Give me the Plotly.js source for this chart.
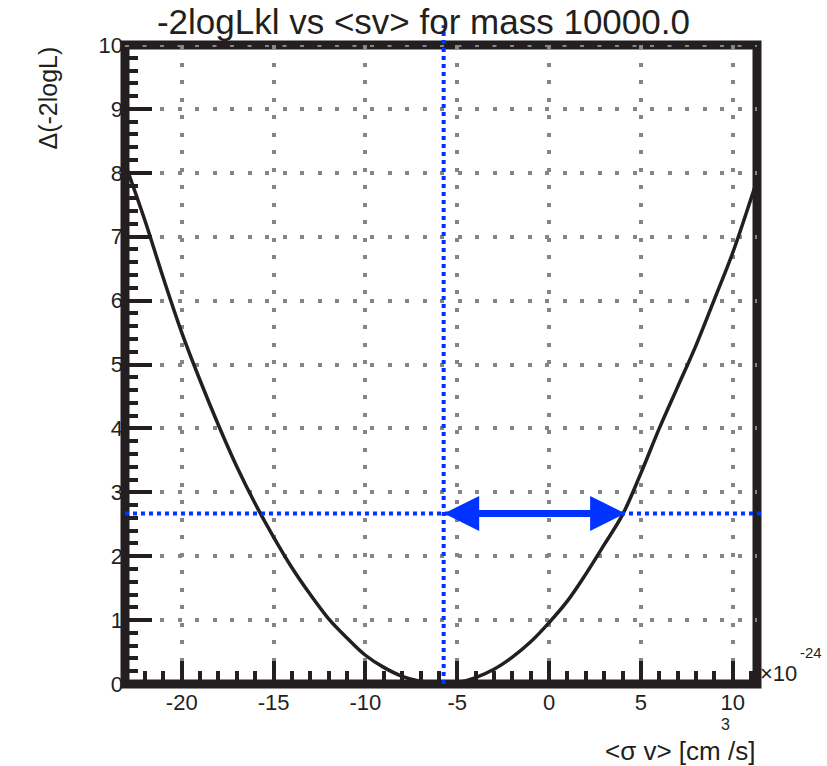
<!DOCTYPE html>
<html>
<head>
<meta charset="utf-8">
<script src="https://cdn.plot.ly/plotly-3.0.1.min.js"></script>
<style>html,body{margin:0;padding:0;background:#fff;}#chart{width:827px;height:766px;}</style>
</head>
<body>
<div id="chart"></div>
<script>
// Scan values: <sigma v> in units of 1e-24 cm^3/s
const sigmaV = [-23.09, -22, -21, -20, -19, -18, -17, -16, -15, -14, -13, -12, -11, -10, -9, -8, -7, -6, -5, -4, -3, -2, -1, 0, 1, 2, 3, 4, 5, 6, 7, 8, 9, 10, 11, 11.32];
const deltaLogL = [8.15, 7.25, 6.35, 5.5, 4.75, 4.05, 3.4, 2.82, 2.3, 1.82, 1.4, 1.02, 0.72, 0.45, 0.26, 0.12, 0.04, 0.0, 0.02, 0.1, 0.23, 0.42, 0.66, 0.96, 1.3, 1.72, 2.18, 2.65, 3.3, 4.0, 4.65, 5.3, 6.02, 6.75, 7.6, 7.88];
const bestFit = -5.74;     // vertical blue line
const upperLimit = 4.14;   // arrow right end
const limitLevel = 2.67;   // horizontal blue line
const xRange = [-23.09, 11.32];
const yRange = [0, 10];
const xTickVals = [-20, -15, -10, -5, 0, 5, 10];
const xTickText = ['-20', '-15', '-10', '-5', '0', '5', '10'];
const yTickVals = [0, 1, 2, 3, 4, 5, 6, 7, 8, 9, 10];
const yTickText = ['0', '1', '2', '3', '4', '5', '6', '7', '8', '9', '10'];

const FONT = 'Liberation Sans, Arial, Helvetica, sans-serif';
const INK = '#231f20';
const BLUE = '#0033ff';
const GRID = '#858585';

const traces = [{
  x: sigmaV, y: deltaLogL, type: 'scatter', mode: 'lines',
  line: {color: INK, width: 3.5, shape: 'spline', smoothing: 1},
  hoverinfo: 'skip', showlegend: false
}];

const gridStyle = {showgrid: true, gridcolor: GRID, gridwidth: 4, griddash: '4px,13.5px'};

const layout = {
  width: 827, height: 766,
  margin: {l: 125, r: 70, t: 45, b: 82, pad: 0},
  paper_bgcolor: '#ffffff', plot_bgcolor: '#ffffff',
  showlegend: false,
  title: {
    text: '-2logLkl vs &lt;sv&gt; for mass 10000.0',
    font: {family: FONT, size: 35, color: INK},
    xref: 'container', x: 0.512, xanchor: 'center',
    yref: 'container', y: 0.955, yanchor: 'bottom'
  },
  xaxis: Object.assign({
    range: xRange, autorange: false, zeroline: false, showline: false,
    tickmode: 'array', tickvals: xTickVals, ticktext: xTickText,
    ticks: 'inside', ticklen: 23, tickwidth: 4, tickcolor: INK,
    minor: {dtick: 1, tick0: 0, ticks: 'inside', ticklen: 13, tickwidth: 4, tickcolor: INK, showgrid: false},
    tickfont: {family: FONT, size: 22, color: INK},
    ticklabelstandoff: 3
  }, gridStyle),
  yaxis: Object.assign({
    range: yRange, autorange: false, zeroline: false, showline: false,
    tickmode: 'array', tickvals: yTickVals, ticktext: yTickText,
    ticks: 'inside', ticklen: 27, tickwidth: 4, tickcolor: INK,
    minor: {dtick: 0.2, tick0: 0, ticks: 'inside', ticklen: 13, tickwidth: 4, tickcolor: INK, showgrid: false},
    tickfont: {family: FONT, size: 22, color: INK},
    ticklabelstandoff: 1
  }, gridStyle),
  shapes: [
    {type: 'rect', xref: 'paper', yref: 'paper', x0: 0, x1: 1, y0: 0, y1: 1,
     line: {color: INK, width: 9}, fillcolor: 'rgba(0,0,0,0)', layer: 'below'},
    {type: 'line', xref: 'paper', yref: 'y', x0: 0, x1: 1, y0: yRange[1], y1: yRange[1],
     line: {color: GRID, width: 4, dash: '4px,13.5px'}, layer: 'below'},
    {type: 'line', xref: 'x', yref: 'paper', x0: bestFit, x1: bestFit, y0: 0, y1: 1.031,
     line: {color: BLUE, width: 4, dash: '4px,4px'}, layer: 'above'},
    {type: 'line', xref: 'paper', yref: 'y', x0: 0, x1: 1.0095, y0: limitLevel, y1: limitLevel,
     line: {color: BLUE, width: 4, dash: '4px,4px'}, layer: 'above'}
  ],
  annotations: [
    {x: upperLimit, y: limitLevel, xref: 'x', yref: 'y', axref: 'x', ayref: 'y',
     ax: bestFit, ay: limitLevel, text: '', font: {size: 1}, borderpad: 0,
     showarrow: true, arrowside: 'end+start', arrowhead: 2, startarrowhead: 2,
     arrowsize: 1.0, startarrowsize: 1.0, arrowwidth: 7, arrowcolor: BLUE, standoff: 0, startstandoff: 0},
    {text: '×10', xref: 'paper', yref: 'paper', x: 1.0015, y: 0.0172, xanchor: 'left', yanchor: 'middle',
     showarrow: false, font: {family: FONT, size: 22, color: INK}},
    {text: '-24', xref: 'paper', yref: 'paper', x: 1.0649, y: 0.05, xanchor: 'left', yanchor: 'middle',
     showarrow: false, font: {family: FONT, size: 15, color: INK}},
    {text: '&lt;σ v&gt; [cm /s]', xref: 'paper', yref: 'paper', x: 1.0, y: -0.1310, xanchor: 'right', yanchor: 'bottom',
     showarrow: false, font: {family: FONT, size: 26, color: INK}},
    {text: '3', xref: 'paper', yref: 'paper', x: 0.9494, y: -0.0635, xanchor: 'center', yanchor: 'middle',
     showarrow: false, font: {family: FONT, size: 16, color: INK}},
    {text: 'Δ(-2logL)', xref: 'paper', yref: 'paper', x: -0.1234, y: 1.0, xanchor: 'center', yanchor: 'top',
     textangle: -90, showarrow: false, font: {family: FONT, size: 25, color: INK}}
  ]
};

Plotly.newPlot('chart', traces, layout, {displayModeBar: false, staticPlot: true});
</script>
</body>
</html>
